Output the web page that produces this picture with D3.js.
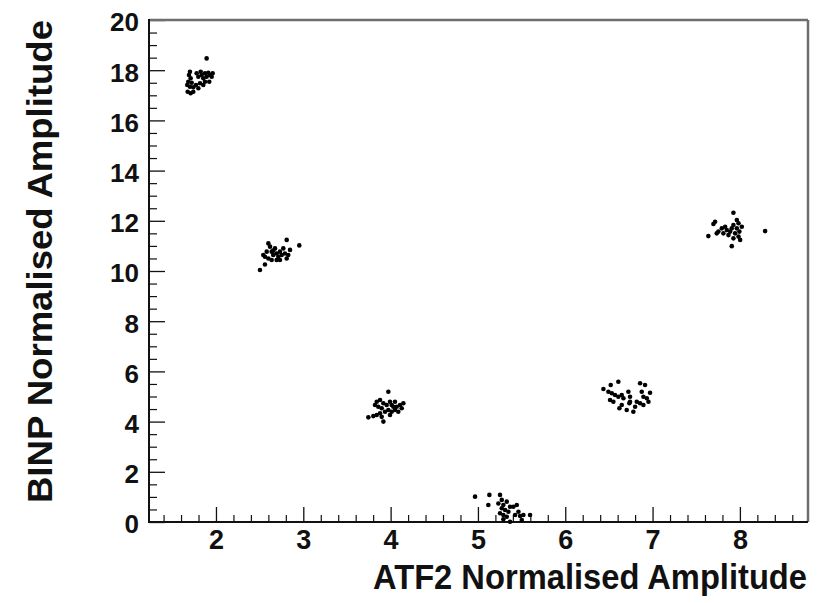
<!DOCTYPE html>
<html>
<head>
<meta charset="utf-8">
<script src="https://cdn.jsdelivr.net/npm/d3@7"></script>
<style>
  html, body { margin: 0; padding: 0; background: #ffffff; }
  svg { display: block; }
  .tick text { font-family: "Liberation Sans", Arial, sans-serif; font-weight: bold; fill: #111; }
  .x-major .tick text { font-size: 27px; }
  .y-major .tick text { font-size: 26px; }
  .axis-title { font-family: "Liberation Sans", Arial, sans-serif; font-weight: bold; font-size: 35px; fill: #111; }
</style>
</head>
<body>
<svg id="chart" width="821" height="603"></svg>
<script>
// ATF2 vs BINP normalised amplitudes, one cluster of events per setting
const clusterA_x = [1.893,1.702,1.691,1.710,1.683,1.722,1.671,1.702,1.740,1.676,1.710,1.779,1.798,1.825,1.836,1.855,1.874,1.893,1.912,1.931,1.951,1.923,1.874,1.817,1.771,1.798,1.740,1.855,1.962];
const clusterA_y = [18.47,17.94,17.81,17.68,17.54,17.50,17.41,17.34,17.32,17.14,17.08,17.88,17.74,17.94,17.81,17.68,17.88,17.74,17.90,17.81,17.74,17.54,17.54,17.48,17.41,17.28,17.14,17.41,17.88];

const clusterB_x = [2.504,2.561,2.542,2.581,2.600,2.619,2.638,2.656,2.600,2.676,2.695,2.714,2.733,2.752,2.771,2.810,2.848,2.828,2.810,2.733,2.695,2.638,2.954,2.561,2.656,2.790];
const clusterB_y = [10.04,10.26,10.64,10.77,11.10,10.97,10.77,10.64,10.50,10.90,10.70,10.57,10.77,10.64,10.90,11.24,10.84,10.64,10.50,10.44,10.44,10.44,11.02,10.57,10.81,10.70];

const clusterC_x = [3.974,3.841,3.879,3.917,3.821,3.859,3.898,3.955,3.993,4.012,4.031,3.974,4.012,4.050,4.070,4.108,4.146,4.127,4.088,3.936,3.879,3.841,3.802,3.745,3.917,3.898,4.050,3.993];
const clusterC_y = [5.19,4.79,4.86,4.73,4.66,4.59,4.53,4.66,4.79,4.66,4.59,4.46,4.39,4.46,4.59,4.66,4.73,4.53,4.39,4.39,4.33,4.26,4.22,4.17,4.00,4.19,4.79,4.26];

const clusterD_x = [4.967,5.131,5.119,5.253,5.273,5.234,5.291,5.330,5.368,5.349,5.311,5.273,5.253,5.291,5.330,5.406,5.445,5.464,5.426,5.483,5.521,5.502,5.597,5.368,5.291];
const clusterD_y = [1.01,1.08,0.68,1.08,0.88,0.74,0.68,0.81,0.61,0.41,0.48,0.55,0.35,0.28,0.21,0.61,0.68,0.41,0.28,0.24,0.28,0.08,0.28,0.01,0.11];

const clusterE_x = [6.437,6.521,6.608,6.494,6.533,6.513,6.551,6.570,6.608,6.647,6.666,6.647,6.723,6.742,6.742,6.734,6.620,6.704,6.780,6.800,6.857,6.914,6.876,6.895,6.971,6.934,6.953,6.895,6.857,6.819];
const clusterE_y = [5.30,5.46,5.59,5.19,5.13,4.86,4.79,5.06,4.99,5.06,4.93,4.66,5.19,4.99,4.79,4.73,4.53,4.46,4.39,4.59,5.53,5.46,5.19,4.99,5.15,4.93,4.79,4.66,4.73,4.79];

const clusterF_x = [7.926,7.716,7.697,7.639,7.754,7.793,7.831,7.850,7.811,7.869,7.888,7.907,7.926,7.965,7.984,7.965,7.994,7.945,7.984,8.003,7.926,7.907,8.022,8.289,7.735];
const clusterF_y = [12.32,11.96,11.87,11.39,11.57,11.70,11.76,11.63,11.50,11.43,11.57,11.70,11.83,12.03,11.90,11.70,11.57,11.50,11.37,11.24,11.30,10.99,11.76,11.59,11.50];

const xTickValues = [2, 3, 4, 5, 6, 7, 8];
const yTickValues = [0, 2, 4, 6, 8, 10, 12, 14, 16, 18, 20];
const xTitle = "ATF2 Normalised Amplitude";
const yTitle = "BINP Normalised Amplitude";

const clusters = [
  [clusterA_x, clusterA_y], [clusterB_x, clusterB_y], [clusterC_x, clusterC_y],
  [clusterD_x, clusterD_y], [clusterE_x, clusterE_y], [clusterF_x, clusterF_y]
];
const points = clusters.flatMap(([xs, ys]) => xs.map((x, i) => ({ x, y: ys[i] })));

const svg = d3.select("#chart");
const plotLeft = 149, plotRight = 808, plotTop = 20, plotBottom = 522;

const x = d3.scaleLinear().domain([1.233, 8.78]).range([plotLeft, plotRight]);
const y = d3.scaleLinear().domain([0, 20]).range([plotBottom, plotTop]);

// minor ticks (inward)
const xMinor = d3.range(14, 88, 2).map(v => v / 10).filter(v => v > 1.233 && v < 8.78 && !xTickValues.includes(v));
const yMinor = d3.range(1, 40).map(v => v / 2).filter(v => !yTickValues.includes(v));

svg.append("g")
  .attr("transform", `translate(0,${plotBottom})`)
  .call(d3.axisBottom(x).tickValues(xMinor).tickSize(-7).tickFormat(""))
  .call(g => g.select(".domain").remove())
  .selectAll("line").attr("stroke", "#111").attr("stroke-width", 1.2);

svg.append("g")
  .attr("transform", `translate(${plotLeft},0)`)
  .call(d3.axisLeft(y).tickValues(yMinor).tickSize(-8).tickFormat(""))
  .call(g => g.select(".domain").remove())
  .selectAll("line").attr("stroke", "#111").attr("stroke-width", 1.2);

// major ticks with labels
const xAxis = svg.append("g").attr("class", "x-major")
  .attr("transform", `translate(0,${plotBottom})`)
  .call(d3.axisBottom(x).tickValues(xTickValues).tickSize(-15).tickPadding(8).tickFormat(d3.format("d")))
  .call(g => g.select(".domain").remove());
xAxis.selectAll("line").attr("stroke", "#111").attr("stroke-width", 1.3);
xAxis.selectAll("text").attr("dy", "0.71em");

const yAxis = svg.append("g").attr("class", "y-major")
  .attr("transform", `translate(${plotLeft},0)`)
  .call(d3.axisLeft(y).tickValues(yTickValues).tickSize(-16).tickPadding(10).tickFormat(d3.format("d")))
  .call(g => g.select(".domain").remove());
yAxis.selectAll("line").attr("stroke", "#111").attr("stroke-width", 1.3);
yAxis.selectAll("text").attr("dy", "0.42em");

// frame
svg.append("line").attr("x1", plotLeft).attr("x2", plotRight).attr("y1", plotTop).attr("y2", plotTop)
  .attr("stroke", "#6e6e6e").attr("stroke-width", 2.5);
svg.append("line").attr("x1", plotRight).attr("x2", plotRight).attr("y1", plotTop).attr("y2", plotBottom)
  .attr("stroke", "#6e6e6e").attr("stroke-width", 2.5);
svg.append("line").attr("x1", plotLeft).attr("x2", plotLeft).attr("y1", plotTop - 1).attr("y2", plotBottom + 1)
  .attr("stroke", "#111").attr("stroke-width", 2);
svg.append("line").attr("x1", plotLeft).attr("x2", plotRight).attr("y1", plotBottom).attr("y2", plotBottom)
  .attr("stroke", "#111").attr("stroke-width", 2);

// events
svg.append("g").selectAll("circle").data(points).join("circle")
  .attr("cx", d => x(d.x)).attr("cy", d => y(d.y)).attr("r", 2.3)
  .attr("fill", "#000");

// axis titles
svg.append("text").attr("class", "axis-title")
  .attr("x", 807).attr("y", 589).attr("text-anchor", "end")
  .attr("textLength", 434).attr("lengthAdjust", "spacingAndGlyphs")
  .text(xTitle);

svg.append("text").attr("class", "axis-title")
  .attr("transform", "translate(52,20) rotate(-90)").attr("text-anchor", "end")
  .attr("textLength", 483).attr("lengthAdjust", "spacingAndGlyphs")
  .text(yTitle);
</script>
</body>
</html>
